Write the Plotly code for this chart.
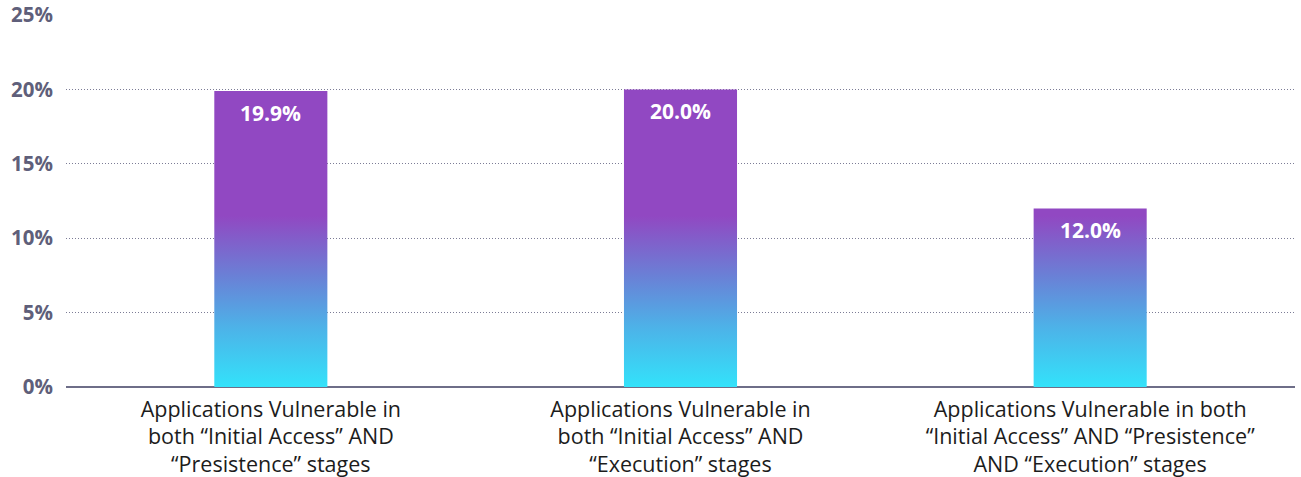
import plotly.graph_objects as go

# Share of applications vulnerable across combined attack stages
categories = [
    "Applications Vulnerable in<br>both “Initial Access” AND<br>“Presistence” stages",
    "Applications Vulnerable in<br>both “Initial Access” AND<br>“Execution” stages",
    "Applications Vulnerable in both<br>“Initial Access” AND “Presistence”<br>AND “Execution” stages",
]
values = [19.9, 20.0, 12.0]
value_labels = ["19.9%", "20.0%", "12.0%"]

y_ticks = [0, 5, 10, 15, 20, 25]
y_tick_text = ["0%", "5%", "10%", "15%", "20%", "25%"]

BAR_WIDTH = 0.276
# Vertical colour ramp, fixed to the y axis so every bar shares it
GRADIENT_START, GRADIENT_STOP = 0, 11.5
gradient = [
    [0.0, "#33E2FA"],
    [0.35, "#4DB2E8"],
    [0.65, "#6A80D6"],
    [1.0, "#9148C2"],
]

fig = go.Figure()

for i, v in enumerate(values):
    x0, x1 = i - BAR_WIDTH / 2, i + BAR_WIDTH / 2
    fig.add_trace(go.Scatter(
        x=[x0, x0, x1, x1, x0],
        y=[0, v, v, 0, 0],
        mode="none",
        fill="toself",
        fillgradient=dict(type="vertical", colorscale=gradient,
                          start=GRADIENT_START, stop=GRADIENT_STOP),
        hoverinfo="skip",
        showlegend=False,
    ))

for i, (v, label) in enumerate(zip(values, value_labels)):
    fig.add_annotation(
        x=i, y=v, text=label, showarrow=False,
        yanchor="top", yshift=-6,
        font=dict(family="Open Sans", size=21, color="white", weight="bold"),
    )

fig.update_layout(
    width=1301,
    height=477,
    margin=dict(l=66, r=6, t=15, b=90),
    paper_bgcolor="white",
    plot_bgcolor="white",
    xaxis=dict(
        range=[-0.5, 2.5],
        tickvals=list(range(len(categories))),
        ticktext=categories,
        tickfont=dict(family="Open Sans", size=21.5, color="#1c1c1c"),
        showgrid=False,
        zeroline=False,
        showline=False,
        ticks="",
        ticklabelstandoff=7,
        automargin=False,
        fixedrange=True,
    ),
    yaxis=dict(
        range=[0, 25],
        tickvals=y_ticks,
        ticktext=y_tick_text,
        tickfont=dict(family="Open Sans", size=20.5, color="#5f5f7a", weight="bold"),
        showgrid=True,
        gridcolor="#7c7c96",
        griddash="1px,2px",
        gridwidth=1,
        zeroline=True,
        zerolinecolor="#6e6e88",
        zerolinewidth=2,
        ticks="",
        ticklabelstandoff=12,
        automargin=False,
        fixedrange=True,
    ),
)

fig.write_html("out.html")
